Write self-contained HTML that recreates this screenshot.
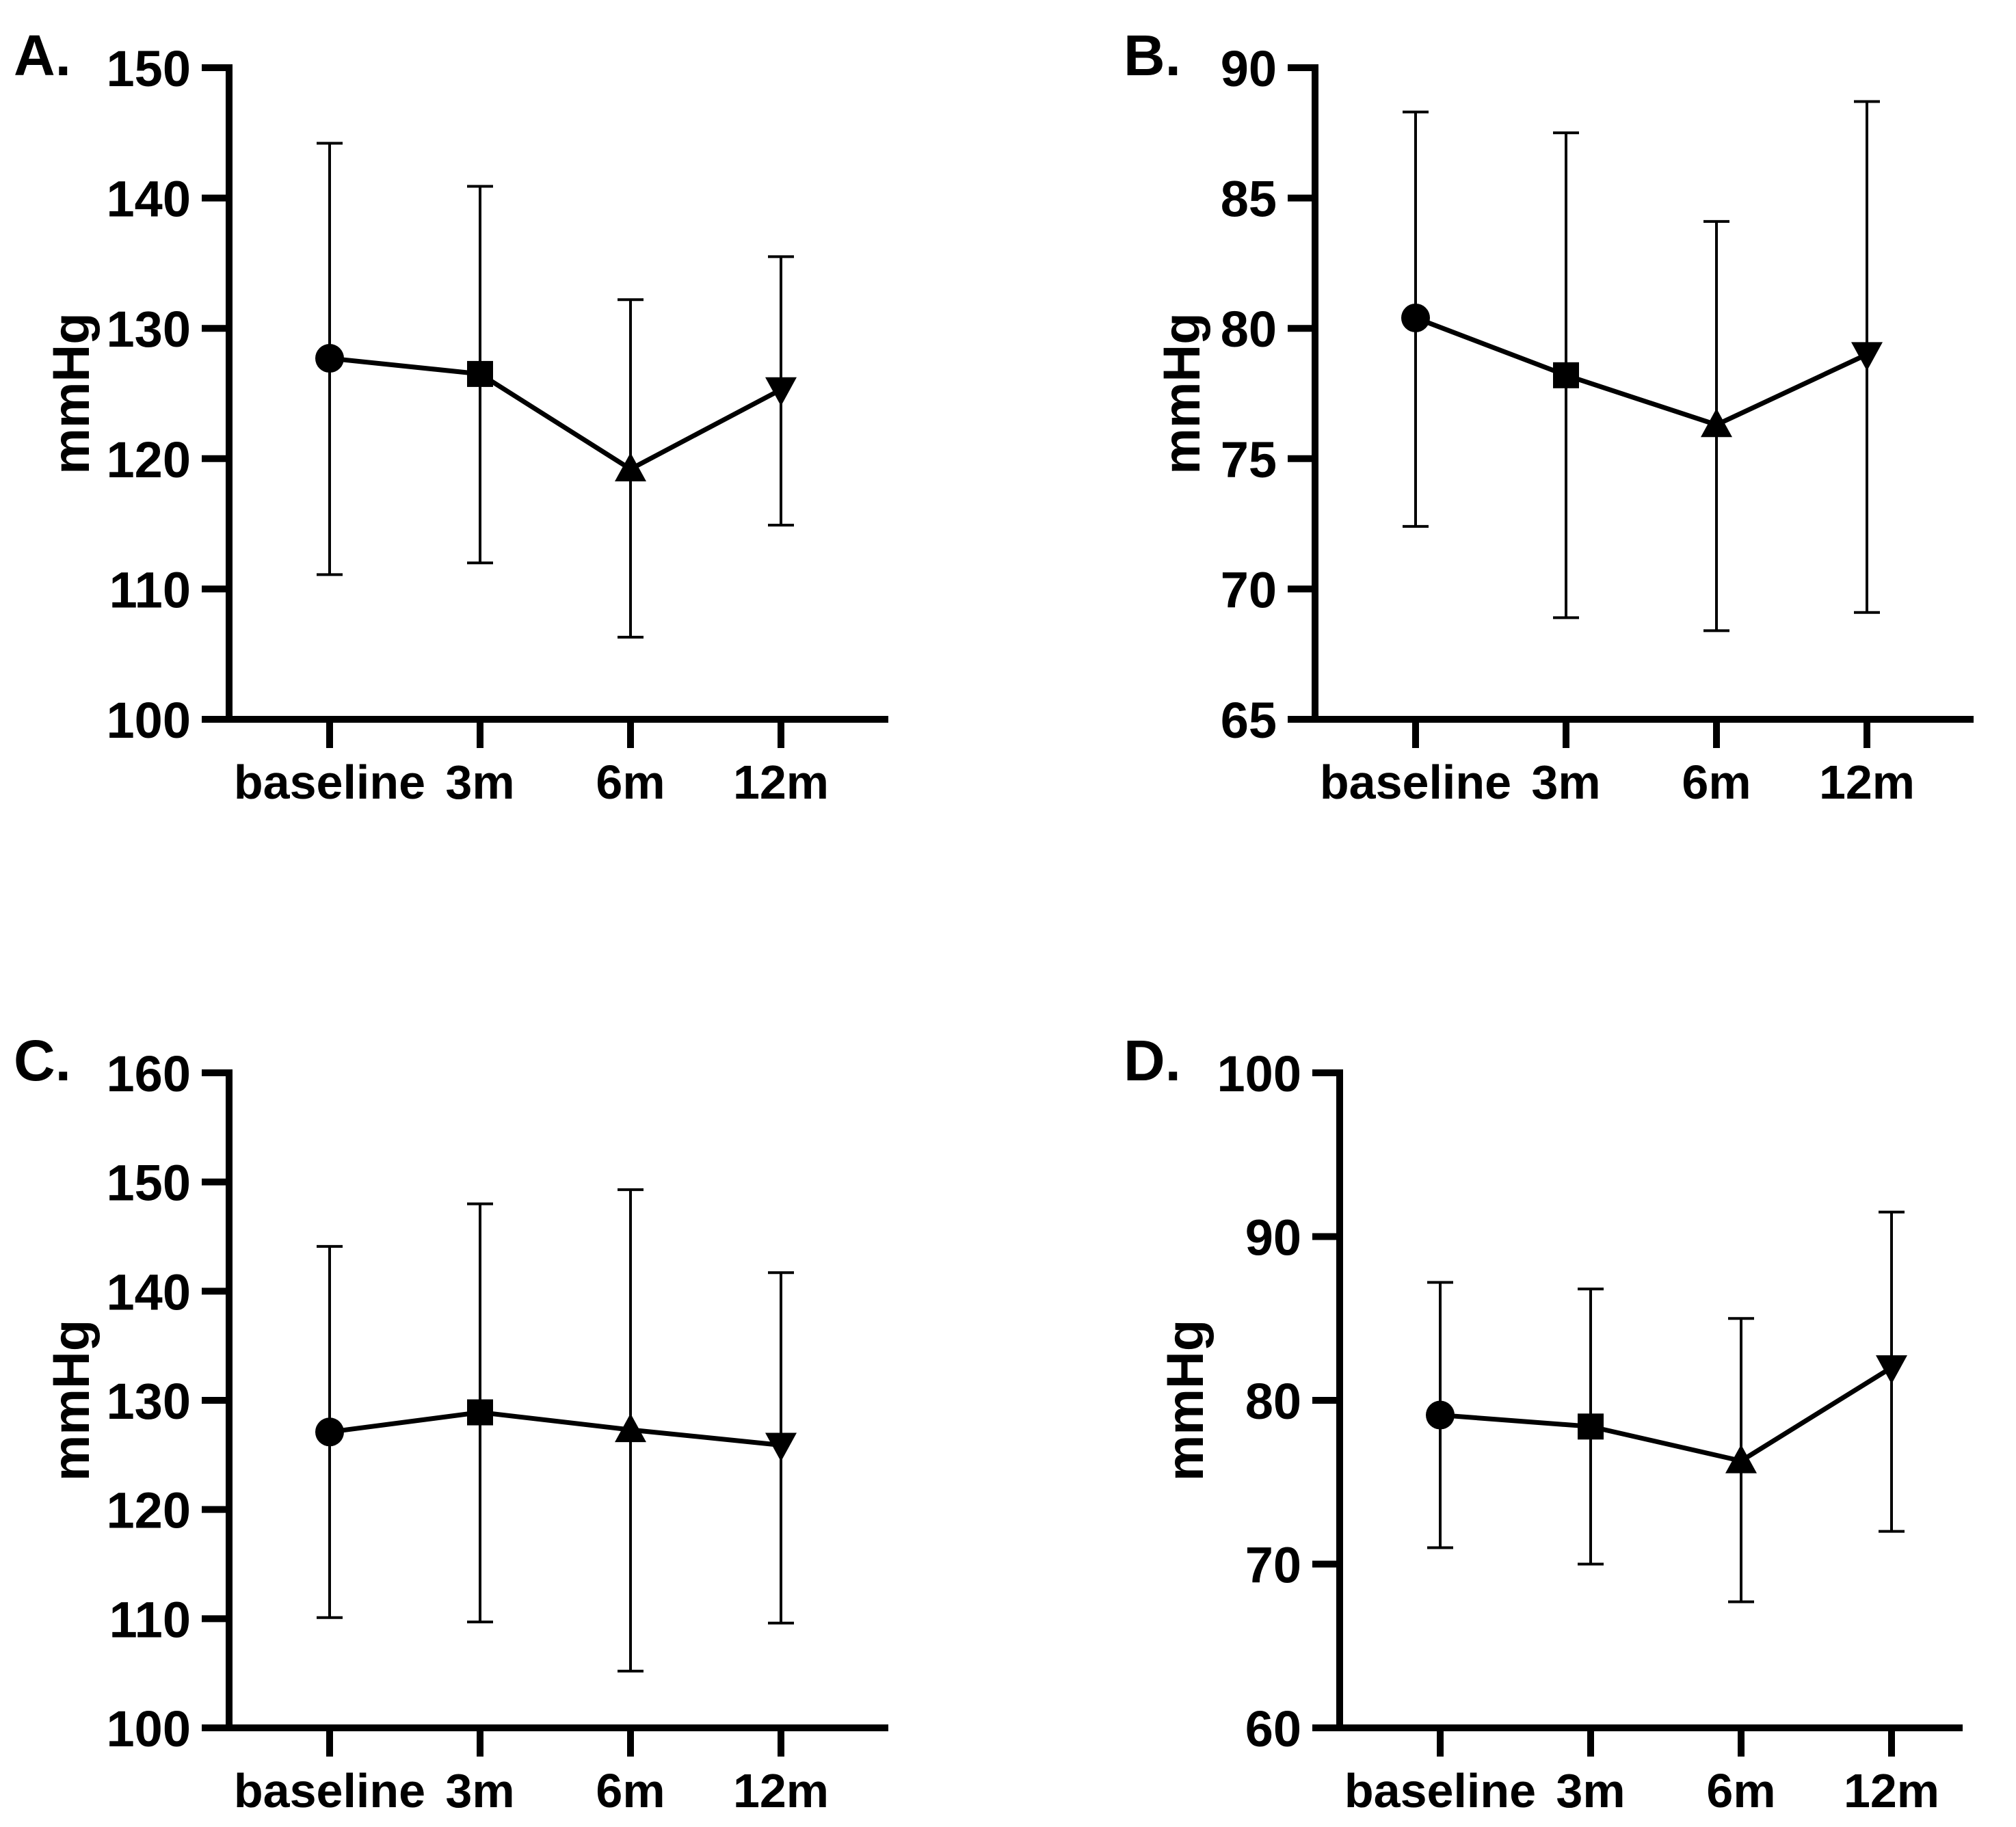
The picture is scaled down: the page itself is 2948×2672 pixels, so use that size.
<!DOCTYPE html>
<html><head><meta charset="utf-8"><style>
html,body{margin:0;padding:0;background:#fff}
svg{display:block}
text{font-family:"Liberation Sans",Arial,sans-serif;font-weight:bold;fill:#000}
</style></head><body>
<svg id="fig" width="2948" height="2672" viewBox="0 0 2948 2672" xmlns="http://www.w3.org/2000/svg"></svg>
<script>
const categories = ["baseline","3m","6m","12m"];
const markers = ["circle","square","triangle-up","triangle-down"];
// Panel A
const meanA = [127.7,126.5,119.2,125.3];
const upA = [144.2,140.9,132.2,135.5];
const loA = [111.1,112.0,106.3,114.9];
const ticksA = [100,110,120,130,140,150];
// Panel B
const meanB = [80.4,78.2,76.3,79.0];
const upB = [88.3,87.5,84.1,88.7];
const loB = [72.4,68.9,68.4,69.1];
const ticksB = [65,70,75,80,85,90];
// Panel C
const meanC = [127.1,128.9,127.3,125.9];
const upC = [144.1,148.0,149.3,141.7];
const loC = [110.1,109.7,105.2,109.6];
const ticksC = [100,110,120,130,140,150,160];
// Panel D
const meanD = [79.1,78.4,76.3,82.0];
const upD = [87.2,86.8,85.0,91.5];
const loD = [71.0,70.0,67.7,72.0];
const ticksD = [60,70,80,90,100];

const NS="http://www.w3.org/2000/svg";
const svg=document.getElementById('fig');
function mk(tag,attrs,parent){const e=document.createElementNS(NS,tag);for(const k in attrs)e.setAttribute(k,attrs[k]);(parent||svg).appendChild(e);return e;}

const panels=[
 {id:'a',letter:'A.',lx:20,ly:110,ax:335,top:99,bot:1052,xend:1299,mean:meanA,up:upA,lo:loA,ticks:ticksA,ylab:103},
 {id:'b',letter:'B.',lx:1643,ly:110,ax:1923,top:99,bot:1052,xend:2886,mean:meanB,up:upB,lo:loB,ticks:ticksB,ylab:1727},
 {id:'c',letter:'C.',lx:20,ly:1580,ax:335,top:1569,bot:2527,xend:1299,mean:meanC,up:upC,lo:loC,ticks:ticksC,ylab:103},
 {id:'d',letter:'D.',lx:1643,ly:1580,ax:1959,top:1569,bot:2527,xend:2870,mean:meanD,up:upD,lo:loD,ticks:ticksD,ylab:1732}
];

panels.forEach(p=>{
 const g=mk('g',{});
 
 
 const ymin=p.ticks[0], ymax=p.ticks[p.ticks.length-1];
 const y=v=>p.bot-(v-ymin)/(ymax-ymin)*(p.bot-p.top);
 const x=i=>p.ax+147+i*220;
 const lt=mk('text',{x:p.lx,y:p.ly,'font-size':84},g);lt.textContent=p.letter;
 
 
 const ya=mk('line',{x1:p.ax,y1:p.top-5,x2:p.ax,y2:p.bot+5,stroke:'#000','stroke-width':10},g);
 
 
 const xa=mk('line',{x1:p.ax-5,y1:p.bot,x2:p.xend,y2:p.bot,stroke:'#000','stroke-width':10},g);
 
 
 p.ticks.forEach(t=>{
  mk('line',{x1:p.ax-40,y1:y(t),x2:p.ax,y2:y(t),stroke:'#000','stroke-width':10},g);
  const tx=mk('text',{x:p.ax-56,y:y(t)+27,'font-size':74,'text-anchor':'end'},g);tx.textContent=t;
  
  
 });
 categories.forEach((c,i)=>{
  mk('line',{x1:x(i),y1:p.bot,x2:x(i),y2:p.bot+42,stroke:'#000','stroke-width':10},g);
  const tx=mk('text',{x:x(i),y:p.bot+116,'font-size':70,'text-anchor':'middle'},g);tx.textContent=c;
  
  
 });
 const yl=mk('text',{x:0,y:0,'font-size':76,'text-anchor':'middle',transform:`translate(${p.ylab+27},${(p.top+p.bot)/2}) rotate(-90)`},g);
 yl.textContent='mmHg';
 
 
 categories.forEach((c,i)=>{
  const eg=mk('g',{stroke:'#000','stroke-width':4},g);
  
  
  mk('line',{x1:x(i),y1:y(p.up[i]),x2:x(i),y2:y(p.lo[i])},eg);
  mk('line',{x1:x(i)-19,y1:y(p.up[i]),x2:x(i)+19,y2:y(p.up[i])},eg);
  mk('line',{x1:x(i)-19,y1:y(p.lo[i]),x2:x(i)+19,y2:y(p.lo[i])},eg);
 });
 const pts=p.mean.map((v,i)=>x(i)+','+y(v)).join(' ');
 const pl=mk('polyline',{points:pts,fill:'none',stroke:'#000','stroke-width':7},g);
 
 
 p.mean.forEach((v,i)=>{
  const cx=x(i),cy=y(v);let m;
  if(markers[i]==='circle') m=mk('circle',{cx:cx,cy:cy,r:21},g);
  else if(markers[i]==='square') m=mk('rect',{x:cx-19,y:cy-19,width:38,height:38},g);
  else if(markers[i]==='triangle-up') m=mk('polygon',{points:`${cx},${cy-24} ${cx-23},${cy+18} ${cx+23},${cy+18}`},g);
  else m=mk('polygon',{points:`${cx},${cy+24} ${cx-23},${cy-18} ${cx+23},${cy-18}`},g);
  m.setAttribute('fill','#000');
  
  
 });
});
</script>
</body></html>
